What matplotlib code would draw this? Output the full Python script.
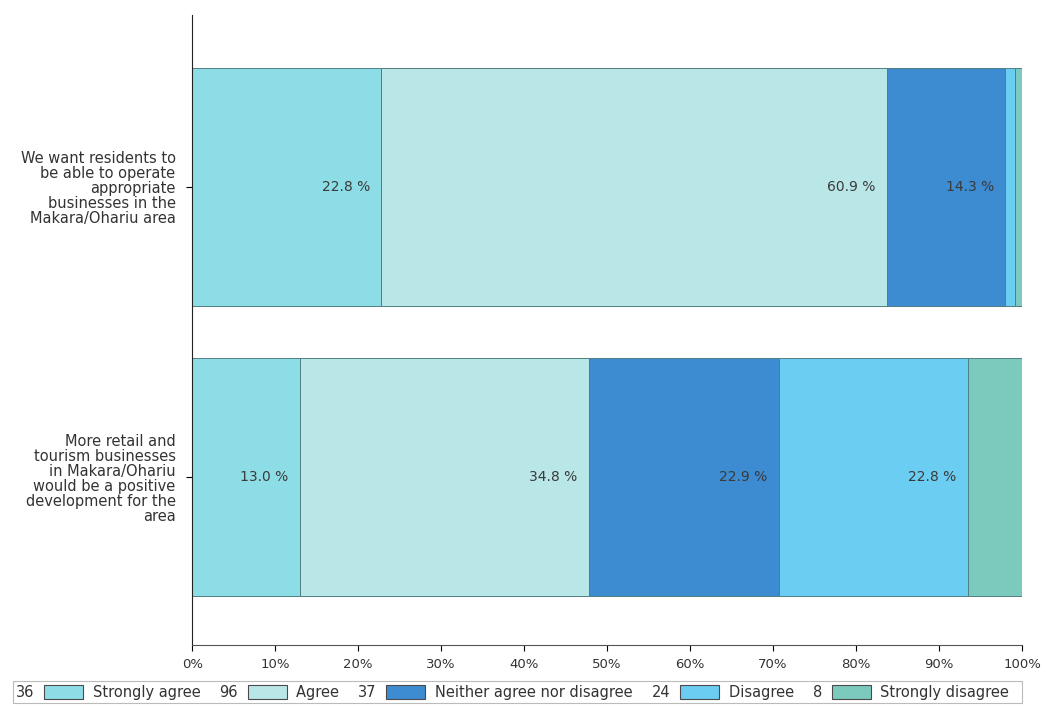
import matplotlib
matplotlib.use('Agg')
import matplotlib.pyplot as plt
from matplotlib.offsetbox import TextArea, DrawingArea, HPacker, AnchoredOffsetbox
from matplotlib.patches import Rectangle

# data
statements = [
    "We want residents to\nbe able to operate\nappropriate\nbusinesses in the\nMakara/Ohariu area",
    "More retail and\ntourism businesses\nin Makara/Ohariu\nwould be a positive\ndevelopment for the\narea",
]
responses = ["Strongly agree", "Agree", "Neither agree nor disagree", "Disagree", "Strongly disagree"]
counts = [36, 96, 37, 24, 8]
strongly_agree = [22.8, 13.0]
agree = [60.9, 34.8]
neither = [14.3, 22.9]
disagree = [1.2, 22.8]
strongly_disagree = [0.8, 6.5]
colors = ["#8ddde6", "#b9e7e8", "#3d8bd0", "#6ccdf2", "#7cc9bd"]

series = [strongly_agree, agree, neither, disagree, strongly_disagree]

fig = plt.figure(figsize=(10.45, 7.06), dpi=100)
ax = fig.add_axes([0.184, 0.086, 0.794, 0.893])

ypos = list(range(len(statements)))
left = [0.0] * len(statements)
for vals, col in zip(series, colors):
    ax.barh(ypos, vals, left=left, height=0.82, color=col,
            edgecolor="#4f7f82", linewidth=0.7)
    for i, v in enumerate(vals):
        end = left[i] + v
        if v >= 10:
            ax.text(end - 1.4, ypos[i], f"{v:.1f} %", ha='right', va='center',
                    fontsize=10, color="#3a3a3a")
        left[i] = end

ax.set_xlim(0, 100)
ax.set_ylim(1.58, -0.593)
ax.set_xticks(range(0, 101, 10))
ax.set_xticklabels([f"{t}%" for t in range(0, 101, 10)], fontsize=9.5, color="#333333")
ax.set_yticks(ypos)
ax.set_yticklabels(statements, fontsize=10.5, color="#333333", ha='right',
                   linespacing=1.0)
ax.tick_params(axis='y', length=4, pad=8)
ax.tick_params(axis='x', length=4, pad=5)
for s in ['top', 'right']:
    ax.spines[s].set_visible(False)
ax.spines['left'].set_color("#222222")
ax.spines['bottom'].set_color("#555555")

# legend: count, swatch, label
items = []
for n, lab, col in zip(counts, responses, colors):
    da = DrawingArea(28, 10, 0, 0)
    da.add_artist(Rectangle((0, 0), 28, 10, facecolor=col, edgecolor="#4a4a4a", linewidth=0.8))
    items.append(TextArea(str(n), textprops=dict(fontsize=10.5, color="#333333")))
    items.append(da)
    items.append(TextArea(lab + "  ", textprops=dict(fontsize=10.5, color="#333333")))
box = HPacker(children=items, align="center", pad=0, sep=7)
anch = AnchoredOffsetbox(loc='lower left', child=box, pad=0.25, frameon=True,
                         bbox_to_anchor=(0.012, 0.004), bbox_transform=fig.transFigure,
                         borderpad=0)
anch.patch.set_edgecolor("#bbbbbb")
anch.patch.set_linewidth(0.8)
fig.add_artist(anch)

fig.savefig("out.png", dpi=100)
